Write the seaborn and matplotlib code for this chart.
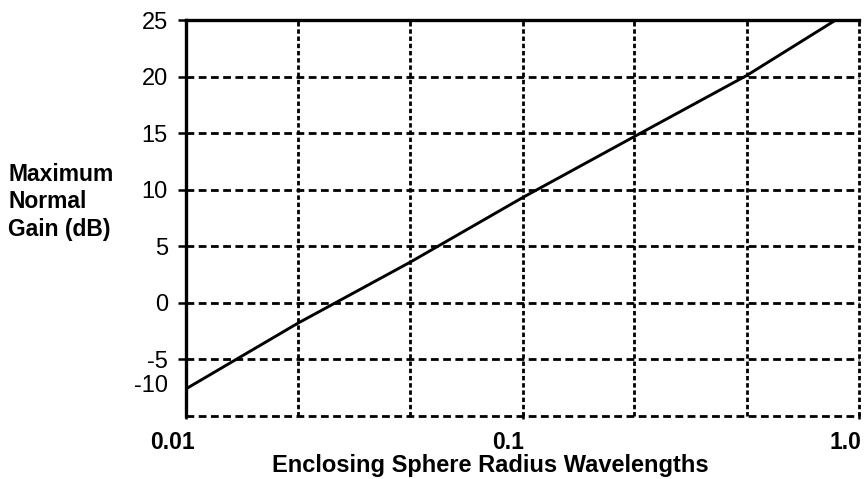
import numpy as np
import pandas as pd
import seaborn as sns
import matplotlib.pyplot as plt
import matplotlib.transforms as mtransforms

# Values
radius = [0.01, 0.0215, 0.0464, 0.1, 0.215, 0.464, 0.853]
gain_db = [-7.6, -1.8, 3.6, 9.3, 14.7, 20.1, 25.0]

y_ticks = [25, 20, 15, 10, 5, 0, -5]
y_grid = [-10, -5, 0, 5, 10, 15, 20, 25]
y_odd_label = "-10"
y_odd_pos = -7.1

x_ticks = [0.01, 0.1, 1.0]
x_tick_labels = ["0.01", "0.1", "1.0"]
x_grid = [0.0215, 0.0464, 0.215, 0.464]

sns.set_theme(style="white")
plt.rcParams['font.family'] = ['Liberation Sans', 'DejaVu Sans']
plt.rcParams['text.color'] = 'black'
plt.rcParams['xtick.color'] = 'black'
plt.rcParams['ytick.color'] = 'black'

W, H, DPI = 868, 479, 100
fig = plt.figure(figsize=(W / DPI, H / DPI), dpi=DPI)
ax = fig.add_axes([186 / W, 1 - 416 / H, (859 - 186) / W, (416 - 20) / H])

df = pd.DataFrame({"radius": radius, "gain": gain_db})
sns.lineplot(data=df, x="radius", y="gain", color="black", linewidth=2.1, ax=ax, zorder=3)

ax.set_xscale("log")
ax.set_xlim(0.01, 1.0)
ax.set_ylim(-10, 25)

# grid lines drawn as dashed lines
for g in y_grid[:-1]:
    ax.axhline(g, color="black", lw=2.0, dashes=(2.8, 1.6), zorder=1, clip_on=False)
for g in x_grid + [0.1, 1.0]:
    ax.axvline(g, color="black", lw=2.0, dashes=(1.6, 1.0), zorder=1, clip_on=False)

for side in ["right", "bottom"]:
    ax.spines[side].set_visible(False)
for side in ["left", "top"]:
    ax.spines[side].set_visible(True)
    ax.spines[side].set_color("black")
    ax.spines[side].set_linewidth(2.4)

# y ticks
ax.set_yticks(y_ticks)
ax.set_yticklabels([str(t) for t in y_ticks])
ax.set_yticks([y_odd_pos], labels=[y_odd_label], minor=True)
ax.tick_params(axis="y", which="major", direction="out", length=6, width=1.8,
               pad=7, labelsize=17, colors="black", left=True)
ax.tick_params(axis="y", which="minor", length=0, pad=13, labelsize=17,
               labelcolor="black", left=True)

# x ticks
ax.set_xticks(x_ticks)
ax.set_xticklabels(x_tick_labels, fontweight="bold")
ax.set_xticks([], minor=True)
ax.tick_params(axis="x", which="major", direction="inout", length=5, width=1.8,
               pad=8, labelsize=16.5, colors="black", bottom=True)
offset = mtransforms.ScaledTranslation(-14 / DPI, 0, fig.dpi_scale_trans)
for lbl in ax.get_xticklabels():
    lbl.set_transform(lbl.get_transform() + offset)

ax.set_xlabel("")
ax.set_ylabel("")

fig.text(490 / W, 1 - 472 / H, "Enclosing Sphere Radius Wavelengths",
         ha="center", va="baseline", fontsize=17, fontweight="bold", color="black")
fig.text(8 / W, 1 - 202 / H, "Maximum\nNormal\nGain (dB)", ha="left",
         va="center", multialignment="left", fontsize=16.5, fontweight="bold",
         linespacing=1.25, color="black")

fig.savefig("out.png", dpi=DPI)
